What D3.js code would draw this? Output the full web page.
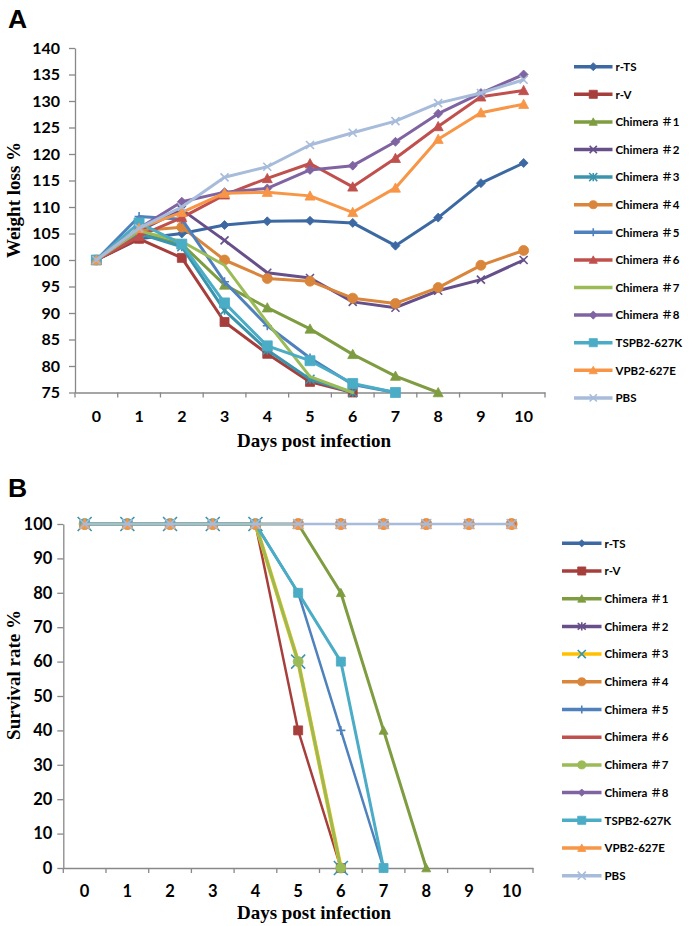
<!DOCTYPE html>
<html><head><meta charset="utf-8">
<script src="https://cdn.jsdelivr.net/npm/d3@7"></script>
<style>
body{margin:0;background:#fff;}
svg{display:block;background:#fff;}
.tick text{font-family:Lato,"Open Sans",sans-serif;font-weight:700;fill:#000;}
.leg{font-family:Lato,"Open Sans","Noto Sans CJK SC",sans-serif;font-weight:700;fill:#000;}
.ttl{font-family:"Liberation Serif","Times New Roman",serif;font-weight:700;fill:#000;}
.pl{font-family:"Liberation Sans",Arial,sans-serif;font-weight:700;fill:#000;}
</style></head><body>
<svg id="chart" width="691" height="926"></svg>
<script>
// ---------- data ----------
const days = [0,1,2,3,4,5,6,7,8,9,10];
const seriesNames = ["r-TS","r-V","Chimera ＃1","Chimera ＃2","Chimera ＃3","Chimera ＃4","Chimera ＃5","Chimera ＃6","Chimera ＃7","Chimera ＃8","TSPB2-627K","VPB2-627E","PBS"];
const weightTicks = [75,80,85,90,95,100,105,110,115,120,125,130,135,140];
const survivalTicks = [0,10,20,30,40,50,60,70,80,90,100];

// Panel A: body weight (% of day 0); null = no surviving mice
const weightRTS   = [100,104.0,105.0,106.6,107.3,107.4,107.0,102.7,108.0,114.5,118.3];
const weightRV    = [100,104.0,100.4,88.3,82.3,77.0,75.0,null,null,null,null];
const weightCh1   = [100,105.0,103.0,95.3,91.0,87.0,82.2,78.1,75.0,null,null];
const weightCh2   = [100,105.5,109.5,103.7,97.6,96.6,92.1,91.0,94.2,96.3,100.0];
const weightCh3   = [100,105.0,102.5,90.5,83.0,77.5,75.0,null,null,null,null];
const weightCh4   = [100,105.5,106.2,100.0,96.5,96.0,92.8,91.8,94.8,99.0,101.8];
const weightCh5   = [100,108.2,107.7,95.9,87.6,81.5,76.5,75.0,null,null,null];
const weightCh6   = [100,104.5,108.0,112.3,115.4,118.2,113.8,119.2,125.2,130.8,132.0];
const weightCh7   = [100,105.5,103.5,99.0,88.2,78.0,75.0,null,null,null,null];
const weightCh8   = [100,106.0,111.0,112.8,113.5,117.0,117.8,122.3,127.6,131.5,135.0];
const weightTSPB2 = [100,107.0,103.0,91.9,83.8,81.0,76.7,75.0,null,null,null];
const weightVPB2  = [100,106.0,109.0,112.6,112.8,112.1,109.0,113.6,122.8,127.8,129.4];
const weightPBS   = [100,106.0,110.0,115.6,117.6,121.7,124.0,126.2,129.6,131.5,134.0];

// Panel B: survival rate (%)
const survRTS   = [100,100,100,100,100,100,100,100,100,100,100];
const survRV    = [100,100,100,100,100,40,0,null,null,null,null];
const survCh1   = [100,100,100,100,100,100,80,40,0,null,null];
const survCh2   = [100,100,100,100,100,100,100,100,100,100,100];
const survCh3   = [100,100,100,100,100,60,0,null,null,null,null];
const survCh4   = [100,100,100,100,100,100,100,100,100,100,100];
const survCh5   = [100,100,100,100,100,80,40,0,null,null,null];
const survCh6   = [100,100,100,100,100,100,100,100,100,100,100];
const survCh7   = [100,100,100,100,100,60,0,null,null,null,null];
const survCh8   = [100,100,100,100,100,100,100,100,100,100,100];
const survTSPB2 = [100,100,100,100,100,80,60,0,null,null,null];
const survVPB2  = [100,100,100,100,100,100,100,100,100,100,100];
const survPBS   = [100,100,100,100,100,100,100,100,100,100,100];

const weightSeries = [weightRTS,weightRV,weightCh1,weightCh2,weightCh3,weightCh4,weightCh5,weightCh6,weightCh7,weightCh8,weightTSPB2,weightVPB2,weightPBS];
const survSeries = [survRTS,survRV,survCh1,survCh2,survCh3,survCh4,survCh5,survCh6,survCh7,survCh8,survTSPB2,survVPB2,survPBS];

// ---------- styles ----------
const colorsA = ["#3D69A3","#A63F3C","#7E9C40","#67508A","#3A94AB","#D9853B","#4F81BD","#C0504D","#9BBB59","#8064A2","#4BACC6","#F79646","#A7BBDA"];
const lineColorsB = ["#3D69A3","#A63F3C","#7E9C40","#67508A","#FFC000","#D9853B","#4F81BD","#C0504D","#9BBB59","#8064A2","#4BACC6","#F79646","#A7BBDA"];
const markColorsB = ["#3D69A3","#A63F3C","#7E9C40","#67508A","#3A94AB","#D9853B","#4F81BD","#C0504D","#9BBB59","#8064A2","#4BACC6","#F79646","#A7BBDA"];
const markersA = ["diamond","square","triangle","x","asterisk","circle","plus","triangle","none","diamond","square","triangle","x"];
const markersB = ["diamond","square","triangle","xbar","x","circle","plus","none","circle","diamond","square","triangle","x"];
const markSizeA = [9,9,10,8,9,10,9,10,0,9,10,10,8];
const markSizeB = [8,9,9,9,14,11,9,0,10,8,9,11,10];
const lineWB = [2,2.5,3,2,4,2,2.5,2,3,2,3,2,2.5];
const axisColor = "#888";

const svg = d3.select("#chart");

function markerPath(type, s) {
  const h = s/2;
  switch(type){
    case "diamond": return `M0,${-h}L${h},0L0,${h}L${-h},0Z`;
    case "square": return `M${-h},${-h}H${h}V${h}H${-h}Z`;
    case "triangle": return `M0,${-h}L${h},${h*0.85}L${-h},${h*0.85}Z`;
    case "circle": return `M${h},0A${h},${h} 0 1,1 ${-h},0A${h},${h} 0 1,1 ${h},0Z`;
    case "x": return `M${-h},${-h}L${h},${h}M${-h},${h}L${h},${-h}`;
    case "asterisk": return `M${-h},${-h}L${h},${h}M${-h},${h}L${h},${-h}M0,${-h}L0,${h}`;
    case "xbar": return `M${-h},${-h*0.8}L${h},${h*0.8}M${-h},${h*0.8}L${h},${-h*0.8}M0,${-h}L0,${h}`;
    case "plus": return `M0,${-h}L0,${h}M${-h},0L${h},0`;
  }
  return null;
}
const strokeOnly = t => ["x","asterisk","xbar","plus"].includes(t);

function drawMarkers(g, pts, type, color, s) {
  if (type === "none" || !s) return;
  g.selectAll(null).data(pts).enter().append("path")
    .attr("transform", p => `translate(${p[0]},${p[1]})`)
    .attr("d", markerPath(type, s))
    .attr("fill", strokeOnly(type) ? "none" : color)
    .attr("stroke", color)
    .attr("stroke-width", strokeOnly(type) ? 1.6 : 0.8);
}

function drawPanel(cfg) {
  const g = svg.append("g");
  const x = d3.scaleBand().domain(days).range([cfg.x0, cfg.x1]);
  const y = d3.scaleLinear().domain(cfg.domain).range([cfg.yBottom, cfg.yTop]);
  const cx = d => x(d) + x.bandwidth()/2;

  // y axis
  const ya = g.append("g").attr("transform", `translate(${cfg.x0},0)`)
    .call(d3.axisLeft(y).tickValues(cfg.ticks).tickSize(6).tickSizeOuter(0).tickPadding(cfg.yPad));
  ya.select(".domain").attr("stroke", axisColor).attr("stroke-width", 1.3);
  ya.selectAll(".tick line").attr("stroke", axisColor).attr("stroke-width", 1.3);
  ya.selectAll(".tick text").style("font-size", cfg.tickFont + "px");

  // x axis (labels centred in categories, tick marks on boundaries)
  const xa = g.append("g").attr("transform", `translate(0,${cfg.yBottom})`)
    .call(d3.axisBottom(x).tickSize(0).tickPadding(cfg.xPad));
  xa.select(".domain").attr("stroke", axisColor).attr("stroke-width", 1.3);
  xa.selectAll(".tick text").style("font-size", cfg.tickFont + "px");
  g.selectAll(null).data(d3.range(days.length + 1)).enter().append("line")
    .attr("x1", i => x.range()[0] + i * x.step()).attr("x2", i => x.range()[0] + i * x.step())
    .attr("y1", cfg.yBottom).attr("y2", cfg.yBottom + 5)
    .attr("stroke", axisColor).attr("stroke-width", 1.3);

  // series
  const line = d3.line().defined(v => v != null).x((v, i) => cx(days[i])).y(v => y(v));
  cfg.series.forEach((vals, k) => {
    const sg = g.append("g");
    sg.append("path").attr("d", line(vals)).attr("fill", "none")
      .attr("stroke", cfg.lineColors[k]).attr("stroke-width", cfg.lineW[k])
      .attr("stroke-linejoin", "round").attr("stroke-linecap", "round");
    const pts = vals.map((v, i) => v == null ? null : [cx(days[i]), y(v)]).filter(p => p);
    drawMarkers(sg, pts, cfg.markers[k], cfg.markColors[k], cfg.markSize[k]);
  });

  // legend
  const lg = g.append("g");
  seriesNames.forEach((name, k) => {
    const yy = cfg.legY0 + k * cfg.legStep;
    lg.append("line").attr("x1", cfg.legX0).attr("x2", cfg.legX1).attr("y1", yy).attr("y2", yy)
      .attr("stroke", cfg.lineColors[k]).attr("stroke-width", 3.5);
    const mt = cfg.markers[k];
    if (mt !== "none") {
      const ms = Math.min(cfg.markSize[k], 9) * 0.9;
      drawMarkers(lg, [[(cfg.legX0 + cfg.legX1) / 2, yy]], mt, cfg.markColors[k], ms);
    }
    lg.append("text").attr("class", "leg").attr("x", cfg.legX1 + 3).attr("y", yy + 4.2)
      .style("font-size", "11.5px").text(name);
  });

  // titles
  g.append("text").attr("class", "ttl").attr("x", 314).attr("y", cfg.xTitleY)
    .attr("text-anchor", "middle").style("font-size", "19px").text("Days post infection");
  g.append("text").attr("class", "ttl").attr("transform", `translate(${cfg.yTitleX},${cfg.yTitleY}) rotate(-90)`)
    .attr("text-anchor", "middle").style("font-size", "19px").text(cfg.yTitle);
  g.append("text").attr("class", "pl").attr("x", 8).attr("y", cfg.letterY)
    .style("font-size", "26.5px").text(cfg.letter);
}

drawPanel({
  x0: 75, x1: 545, yTop: 48, yBottom: 392.5, domain: [75, 140], ticks: weightTicks,
  yPad: 9, xPad: 18.5, tickFont: 16,
  series: weightSeries, lineColors: colorsA, markColors: colorsA, markers: markersA, markSize: markSizeA,
  lineW: colorsA.map(() => 3),
  legX0: 574, legX1: 612.5, legY0: 66.7, legStep: 27.6,
  xTitleY: 446.5, yTitleX: 20, yTitleY: 200, yTitle: "Weight loss %", letter: "A", letterY: 27.5
});

drawPanel({
  x0: 63.3, x1: 533, yTop: 524, yBottom: 868, domain: [0, 100], ticks: survivalTicks,
  yPad: 5, xPad: 17.5, tickFont: 16.5,
  series: survSeries, lineColors: lineColorsB, markColors: markColorsB, markers: markersB, markSize: markSizeB,
  lineW: lineWB,
  legX0: 562, legX1: 601.5, legY0: 543.3, legStep: 27.7,
  xTitleY: 918.5, yTitleX: 19.5, yTitleY: 675, yTitle: "Survival rate %", letter: "B", letterY: 497
});
</script>
</body></html>
